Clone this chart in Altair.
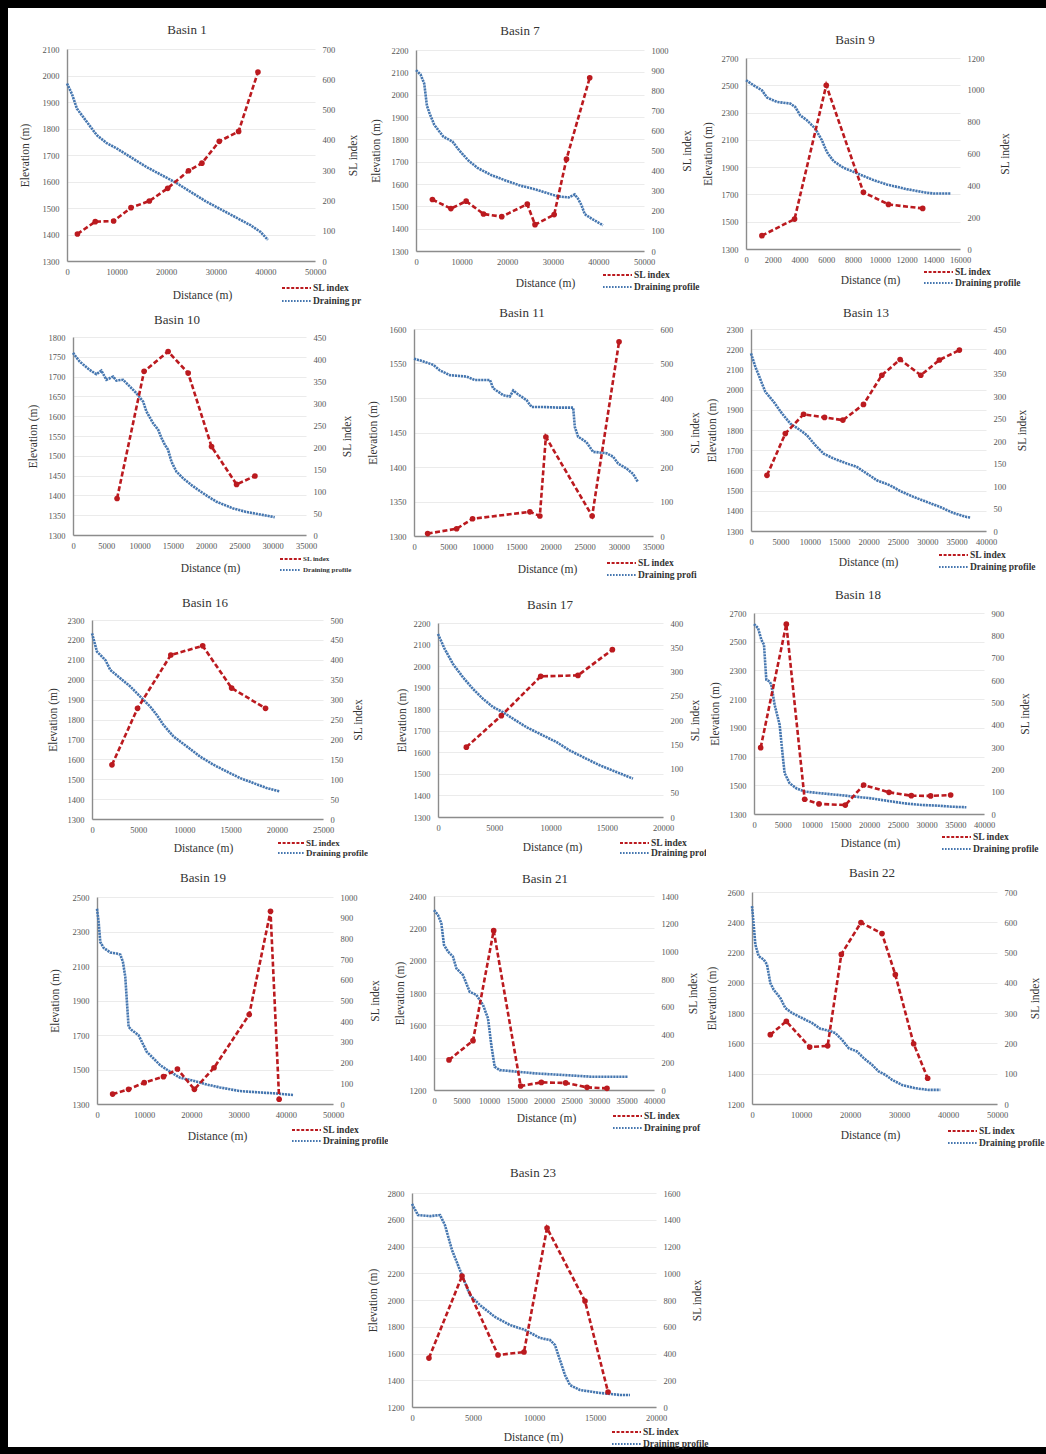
import altair as alt
import pandas as pd

RED = "#bb1a1f"
BLUE = "#4677b0"
SERIF = "Liberation Serif"
TXT = "#333333"
LBL = "#555555"
AXC = "#8c8c8c"

# ---------------- Basin 1 ----------------
b1_dist = [0, 1000, 2000, 4000, 6000, 8000, 10000, 13000, 16000, 19000, 22000, 25000, 28000, 31000, 34000, 37000, 39000, 40500]
b1_elev = [1970, 1930, 1875, 1825, 1775, 1745, 1725, 1690, 1655, 1625, 1595, 1560, 1525, 1495, 1465, 1435, 1410, 1380]
b1_sl_dist = [2100, 5700, 9400, 12900, 16600, 20300, 24500, 27200, 30700, 34600, 38500]
b1_sl = [89, 130, 132, 176, 198, 240, 298, 323, 395, 428, 624]

# ---------------- Basin 7 ----------------
b7_dist = [0, 1000, 1800, 2400, 3000, 4000, 6000, 8000, 9500, 11500, 13500, 16500, 19500, 23000, 26000, 29000, 31000, 33500, 34800, 35500, 36300, 37000, 38500, 41000]
b7_elev = [2110, 2090, 2050, 1950, 1915, 1865, 1812, 1790, 1750, 1705, 1672, 1640, 1617, 1592, 1577, 1558, 1545, 1540, 1553, 1535, 1505, 1465, 1445, 1415]
b7_sl_dist = [3600, 7650, 11000, 14800, 18800, 24400, 26100, 30300, 33000, 38100]
b7_sl = [256, 211, 248, 184, 171, 233, 131, 181, 457, 862]

# ---------------- Basin 9 ----------------
b9_dist = [0, 570, 1190, 1570, 2310, 3310, 3680, 4050, 4550, 5170, 5670, 6040, 6540, 7290, 8030, 9530, 10520, 12010, 13510, 14000, 15300]
b9_elev = [2537, 2500, 2463, 2410, 2378, 2366, 2341, 2280, 2244, 2183, 2098, 2012, 1944, 1895, 1866, 1805, 1773, 1739, 1712, 1707, 1707]
b9_sl_dist = [1190, 3630, 6000, 8780, 10650, 13210]
b9_sl = [84, 188, 1029, 356, 280, 255]

# ---------------- Basin 10 ----------------
b10_dist = [0, 1000, 2500, 3500, 4260, 5020, 6020, 6520, 7520, 8530, 9530, 10530, 11030, 12040, 12790, 13290, 13790, 14290, 14790, 15540, 16550, 17800, 19050, 20310, 21560, 24070, 26080, 28080, 30300]
b10_elev = [1760, 1738, 1717, 1706, 1715, 1692, 1700, 1690, 1692, 1675, 1658, 1637, 1612, 1582, 1566, 1545, 1528, 1515, 1485, 1460, 1443, 1426, 1411, 1397, 1384, 1367, 1358, 1352, 1345]
b10_sl_dist = [6620, 10680, 14290, 17300, 20810, 24570, 27330]
b10_sl = [83, 372, 417, 368, 201, 115, 134]

# ---------------- Basin 11 ----------------
b11_dist = [0, 1370, 2830, 3800, 5270, 7700, 8920, 11120, 11600, 13070, 14040, 14530, 15260, 16480, 17210, 18920, 21360, 23310, 23550, 24030, 25250, 26230, 28180, 29160, 29890, 31100, 32080, 32810]
b11_elev = [1557, 1553, 1548, 1540, 1533, 1531, 1526, 1526, 1514, 1504, 1502, 1511, 1505, 1497, 1487, 1487, 1486, 1486, 1458, 1444, 1436, 1422, 1420, 1415, 1405, 1398, 1390, 1378]
b11_sl_dist = [2000, 6240, 8580, 16970, 18430, 19310, 26090, 30030]
b11_sl = [7, 21, 50, 70, 58, 287, 58, 563]

# ---------------- Basin 13 ----------------
b13_dist = [0, 740, 1300, 2440, 3850, 5270, 6690, 8390, 9520, 10940, 12350, 14050, 16320, 18020, 19720, 21420, 23680, 25380, 27650, 29920, 32180, 34450, 36710, 37300]
b13_elev = [2179, 2113, 2072, 1989, 1940, 1882, 1832, 1799, 1774, 1725, 1683, 1659, 1634, 1617, 1584, 1551, 1526, 1498, 1469, 1444, 1419, 1389, 1369, 1367]
b13_sl_dist = [2720, 5840, 8950, 12520, 15640, 19150, 22270, 25380, 28900, 32070, 35470]
b13_sl = [124, 217, 260, 253, 247, 282, 347, 382, 347, 381, 403]

# ---------------- Basin 16 ----------------
b16_dist = [0, 540, 1440, 1980, 3060, 4140, 5220, 6290, 7010, 7730, 8810, 10250, 11690, 13130, 14570, 16010, 17450, 18880, 20320]
b16_elev = [2233, 2141, 2099, 2049, 2007, 1966, 1915, 1865, 1823, 1773, 1715, 1665, 1614, 1573, 1539, 1506, 1481, 1456, 1439]
b16_sl_dist = [2160, 4930, 8530, 11980, 15110, 18780]
b16_sl = [136, 278, 412, 435, 329, 278]

# ---------------- Basin 17 ----------------
b17_dist = [0, 590, 1330, 2220, 3110, 4000, 4890, 5780, 6670, 7850, 9040, 10520, 11700, 12890, 14370, 15850, 17330]
b17_elev = [2149, 2080, 2010, 1948, 1894, 1848, 1810, 1786, 1756, 1717, 1686, 1648, 1609, 1578, 1540, 1509, 1478]
b17_sl_dist = [2520, 5630, 9130, 12440, 15500]
b17_sl = [144, 209, 290, 292, 345]

# ---------------- Basin 18 ----------------
b18_dist = [0, 700, 1280, 1740, 2140, 2720, 3010, 3590, 4460, 5040, 5330, 6200, 7360, 8810, 11710, 14610, 17510, 20410, 23300, 26200, 29100, 32000, 34320, 36930]
b18_elev = [2623, 2595, 2514, 2479, 2235, 2223, 2200, 2060, 1921, 1688, 1584, 1514, 1479, 1456, 1444, 1433, 1421, 1409, 1391, 1374, 1363, 1358, 1351, 1347]
b18_sl_dist = [1160, 5620, 8810, 11300, 15880, 19070, 23480, 27360, 30720, 34200]
b18_sl = [297, 850, 66, 45, 40, 130, 97, 82, 81, 85]

# ---------------- Basin 19 ----------------
b19_dist = [0, 350, 700, 1410, 2820, 4230, 4930, 5490, 5990, 6340, 6690, 7390, 8800, 9510, 10560, 11970, 13380, 15490, 17610, 20420, 23240, 26060, 30280, 34510, 38030, 41550]
b19_elev = [2432, 2355, 2239, 2205, 2178, 2172, 2166, 2124, 2037, 1892, 1747, 1728, 1699, 1660, 1602, 1564, 1525, 1487, 1452, 1435, 1413, 1396, 1375, 1367, 1361, 1352]
b19_sl_dist = [3310, 6690, 10000, 14080, 17040, 20630, 24790, 32250, 36760, 38590]
b19_sl = [48, 71, 103, 132, 169, 71, 175, 432, 931, 23]

# ---------------- Basin 21 ----------------
b21_dist = [0, 730, 1330, 1820, 2550, 3450, 4060, 5270, 6480, 7700, 8910, 9820, 10420, 11030, 11940, 15270, 18300, 21330, 24970, 28610, 32240, 35270]
b21_elev = [2313, 2282, 2231, 2097, 2056, 2025, 1953, 1911, 1808, 1788, 1726, 1643, 1478, 1344, 1323, 1313, 1303, 1297, 1290, 1282, 1282, 1282]
b21_sl_dist = [2730, 7090, 10850, 15760, 19520, 23940, 27820, 31450]
b21_sl = [217, 356, 1150, 29, 55, 51, 19, 12]

# ---------------- Basin 22 ----------------
b22_dist = [0, 340, 680, 1360, 2380, 3060, 3740, 4420, 5780, 6800, 8160, 10200, 12240, 13950, 15650, 17010, 18370, 19730, 21430, 22790, 24490, 25850, 27210, 28570, 30610, 33330, 36050, 38440]
b22_elev = [2507, 2386, 2253, 2176, 2154, 2121, 1999, 1955, 1900, 1834, 1801, 1768, 1735, 1697, 1684, 1668, 1624, 1569, 1547, 1503, 1459, 1415, 1393, 1360, 1326, 1304, 1293, 1293]
b22_sl_dist = [3740, 7010, 11770, 15440, 18230, 22240, 26530, 29250, 32990, 35850]
b22_sl = [229, 273, 188, 192, 494, 599, 563, 427, 199, 85]

# ---------------- Basin 23 ----------------
b23_dist = [0, 490, 1480, 2300, 2700, 3280, 3930, 4750, 5570, 6800, 8030, 9260, 10490, 11310, 11720, 12130, 12540, 12950, 13770, 15410, 17050, 17870]
b23_elev = [2718, 2635, 2627, 2635, 2560, 2373, 2224, 2037, 1962, 1873, 1813, 1776, 1716, 1701, 1663, 1551, 1439, 1364, 1327, 1305, 1290, 1290]
b23_sl_dist = [1390, 4100, 7050, 9180, 11070, 14180, 16070]
b23_sl = [366, 979, 389, 411, 1338, 792, 112]

one = pd.DataFrame({"k": [0]})


def blank(w, h):
    """An empty white cell used to centre the last panel."""
    return alt.Chart(one).mark_point(opacity=0, size=1).encode(
        x=alt.value(w / 2), y=alt.value(h / 2)
    ).properties(width=w, height=h)


def label(text, x, y, size, weight="normal", align="center", limit=0):
    kw = dict(text=text, font=SERIF, fontSize=size, fontWeight=weight, color=TXT,
              align=align, baseline="middle")
    if limit:
        kw.update(limit=limit, ellipsis=" ")
    return alt.Chart(one).mark_text(**kw).encode(x=alt.value(x), y=alt.value(y))


def panel(p):
    cx0, cy0, cx1, cy1 = p["cell"]
    px0, py0, px1, py1 = p["box"]
    CW, CH = cx1 - cx0, cy1 - cy0
    mid_y = (py0 + py1) / 2 - cy0

    xaxis = alt.Axis(
        values=list(range(0, p["xmax"] + 1, p["xstep"])), format="d", offset=-(cy1 - py1),
        title="Distance (m)", titleX=p["xt"][0] - cx0, titleY=p["xt"][1] - py1,
        titleAlign="center", titleBaseline="middle", titleFont=SERIF, titleFontSize=11.5,
        titleFontWeight="normal", titleColor=TXT,
        labelFont=SERIF, labelFontSize=8.5, labelColor=LBL, labelPadding=6,
        labelFlush=False, labelOverlap=False, ticks=False, grid=False,
        domainColor=AXC, domainWidth=1.4,
    )
    xenc = alt.X("Distance:Q",
                 scale=alt.Scale(domain=[0, p["xmax"]], range=[px0 - cx0, px1 - cx0], nice=False, zero=False),
                 axis=xaxis)

    ylo, yhi, ystep = p["elev_axis"]
    yaxis = alt.Axis(
        orient="left", values=list(range(ylo, yhi + 1, ystep)), format="d", offset=-(px0 - cx0),
        title="Elevation (m)", titleX=p["yt"] - px0, titleY=mid_y, titleAngle=270,
        titleAlign="center", titleBaseline="middle", titleFont=SERIF, titleFontSize=11.5,
        titleFontWeight="normal", titleColor=TXT,
        labelFont=SERIF, labelFontSize=8.5, labelColor=LBL, labelPadding=8,
        labelOverlap=False, ticks=False, grid=True, gridColor="#ebebeb", gridWidth=1,
        domainColor=AXC, domainWidth=1.4,
    )
    smax, sstep = p["sl_axis"]
    saxis = alt.Axis(
        orient="right", values=list(range(0, smax + 1, sstep)), format="d", offset=-(cx1 - px1),
        title="SL index", titleX=p["st"] - px1, titleY=mid_y, titleAngle=270,
        titleAlign="center", titleBaseline="middle", titleFont=SERIF, titleFontSize=11.5,
        titleFontWeight="normal", titleColor=TXT,
        labelFont=SERIF, labelFontSize=8.5, labelColor=LBL, labelPadding=7,
        labelOverlap=False, ticks=False, grid=False, domain=False,
    )

    prof = pd.DataFrame({"Distance": p["dist"], "Elevation": p["elev"]})
    sl = pd.DataFrame({"Distance": p["sl_dist"], "SL": p["sl"]})

    profile = alt.Chart(prof).mark_line(color=BLUE, strokeWidth=2.6, strokeDash=[2.2, 0.8]).encode(
        x=xenc,
        y=alt.Y("Elevation:Q",
                scale=alt.Scale(domain=[ylo, yhi], range=[py1 - cy0, py0 - cy0], nice=False, zero=False),
                axis=yaxis),
    )
    slline = alt.Chart(sl).mark_line(
        color=RED, strokeWidth=2.6, strokeDash=[5, 2.5],
        point=alt.OverlayMarkDef(filled=True, size=32, color=RED, opacity=1),
    ).encode(
        x=xenc,
        y=alt.Y("SL:Q",
                scale=alt.Scale(domain=[0, smax], range=[py1 - cy0, py0 - cy0], nice=False, zero=True),
                axis=saxis),
    )
    layers = [profile, slline]

    # legend
    lx, ly1, ly2 = p["legend"]
    fs = p.get("lfs", 9.5)
    ll = p.get("llen", 29)
    tx = lx + ll + 2
    limit = p.get("cut", 0)
    layers.append(alt.Chart(one).mark_rule(color=RED, strokeWidth=2, strokeDash=[3, 1.6]).encode(
        x=alt.value(lx - cx0), x2=alt.value(lx + ll - cx0), y=alt.value(ly1 - cy0)))
    layers.append(alt.Chart(one).mark_rule(color=BLUE, strokeWidth=2, strokeDash=[1.6, 1.4]).encode(
        x=alt.value(lx - cx0), x2=alt.value(lx + ll - cx0), y=alt.value(ly2 - cy0)))
    layers.append(label("SL index", tx - cx0, ly1 - cy0, fs, "bold", "left"))
    layers.append(label("Draining profile", tx - cx0, ly2 - cy0, fs, "bold", "left", limit))

    # panel title
    layers.append(label(p["name"], p["title"][0] - cx0, p["title"][1] - cy0, 13))

    return alt.layer(*layers).resolve_scale(y="independent").properties(width=CW, height=CH)


panels = {
    "b1": dict(name="Basin 1", dist=b1_dist, elev=b1_elev, sl_dist=b1_sl_dist, sl=b1_sl,
               xmax=50000, xstep=10000, elev_axis=(1300, 2100, 100), sl_axis=(700, 100),
               cell=(8, 8, 368, 306), box=(67, 49, 315, 261), title=(187, 30), yt=25, st=353,
               xt=(202, 295), legend=(282, 288, 301), cut=55),
    "b7": dict(name="Basin 7", dist=b7_dist, elev=b7_elev, sl_dist=b7_sl_dist, sl=b7_sl,
               xmax=50000, xstep=10000, elev_axis=(1300, 2200, 100), sl_axis=(1000, 100),
               cell=(368, 8, 700, 306), box=(416, 50, 644, 251), title=(520, 31), yt=376, st=687,
               xt=(545, 283), legend=(603, 275, 287)),
    "b9": dict(name="Basin 9", dist=b9_dist, elev=b9_elev, sl_dist=b9_sl_dist, sl=b9_sl,
               xmax=16000, xstep=2000, elev_axis=(1300, 2700, 200), sl_axis=(1200, 200),
               cell=(700, 8, 1046, 306), box=(746, 58, 960, 249), title=(855, 40), yt=708, st=1005,
               xt=(870, 280), legend=(924, 272, 283)),
    "b10": dict(name="Basin 10", dist=b10_dist, elev=b10_elev, sl_dist=b10_sl_dist, sl=b10_sl,
                xmax=35000, xstep=5000, elev_axis=(1300, 1800, 50), sl_axis=(450, 50),
                cell=(8, 306, 362, 585), box=(73, 337, 306, 535), title=(177, 320), yt=33, st=347,
                xt=(210, 568), legend=(280, 559, 570), lfs=7, llen=21),
    "b11": dict(name="Basin 11", dist=b11_dist, elev=b11_elev, sl_dist=b11_sl_dist, sl=b11_sl,
                xmax=35000, xstep=5000, elev_axis=(1300, 1600, 50), sl_axis=(600, 100),
                cell=(362, 306, 703, 585), box=(414, 329, 653, 536), title=(522, 313), yt=373, st=695,
                xt=(547, 569), legend=(607, 563, 575), cut=63),
    "b13": dict(name="Basin 13", dist=b13_dist, elev=b13_elev, sl_dist=b13_sl_dist, sl=b13_sl,
                xmax=40000, xstep=5000, elev_axis=(1300, 2300, 100), sl_axis=(450, 50),
                cell=(703, 306, 1046, 585), box=(751, 329, 986, 531), title=(866, 313), yt=712, st=1022,
                xt=(868, 562), legend=(939, 555, 567)),
    "b16": dict(name="Basin 16", dist=b16_dist, elev=b16_elev, sl_dist=b16_sl_dist, sl=b16_sl,
                xmax=25000, xstep=5000, elev_axis=(1300, 2300, 100), sl_axis=(500, 50),
                cell=(8, 585, 368, 860), box=(92, 620, 323, 819), title=(205, 603), yt=53, st=358,
                xt=(203, 848), legend=(278, 843, 853), lfs=9, llen=26),
    "b17": dict(name="Basin 17", dist=b17_dist, elev=b17_elev, sl_dist=b17_sl_dist, sl=b17_sl,
                xmax=20000, xstep=5000, elev_axis=(1300, 2200, 100), sl_axis=(400, 50),
                cell=(368, 585, 706, 860), box=(438, 623, 663, 817), title=(550, 605), yt=402, st=695,
                xt=(552, 847), legend=(620, 843, 853), cut=61),
    "b18": dict(name="Basin 18", dist=b18_dist, elev=b18_elev, sl_dist=b18_sl_dist, sl=b18_sl,
                xmax=40000, xstep=5000, elev_axis=(1300, 2700, 200), sl_axis=(900, 100),
                cell=(706, 585, 1046, 860), box=(754, 613, 984, 814), title=(858, 595), yt=715, st=1025,
                xt=(870, 843), legend=(942, 837, 849)),
    "b19": dict(name="Basin 19", dist=b19_dist, elev=b19_elev, sl_dist=b19_sl_dist, sl=b19_sl,
                xmax=50000, xstep=10000, elev_axis=(1300, 2500, 200), sl_axis=(1000, 100),
                cell=(8, 860, 388, 1150), box=(97, 897, 333, 1104), title=(203, 878), yt=55, st=375,
                xt=(217, 1136), legend=(292, 1130, 1141)),
    "b21": dict(name="Basin 21", dist=b21_dist, elev=b21_elev, sl_dist=b21_sl_dist, sl=b21_sl,
                xmax=40000, xstep=5000, elev_axis=(1200, 2400, 200), sl_axis=(1400, 200),
                cell=(388, 860, 704, 1150), box=(434, 896, 654, 1090), title=(545, 879), yt=400, st=693,
                xt=(546, 1118), legend=(613, 1116, 1128), cut=60),
    "b22": dict(name="Basin 22", dist=b22_dist, elev=b22_elev, sl_dist=b22_sl_dist, sl=b22_sl,
                xmax=50000, xstep=10000, elev_axis=(1200, 2600, 200), sl_axis=(700, 100),
                cell=(704, 860, 1046, 1150), box=(752, 892, 997, 1104), title=(872, 873), yt=712, st=1035,
                xt=(870, 1135), legend=(948, 1131, 1143)),
    "b23": dict(name="Basin 23", dist=b23_dist, elev=b23_elev, sl_dist=b23_sl_dist, sl=b23_sl,
                xmax=20000, xstep=5000, elev_axis=(1200, 2800, 200), sl_axis=(1600, 200),
                cell=(355, 1150, 715, 1447), box=(412, 1193, 656, 1407), title=(533, 1173), yt=373, st=697,
                xt=(533, 1437), legend=(612, 1432, 1444)),
}


def row(*charts):
    return alt.hconcat(*charts, spacing=0, bounds="flush")


row1 = row(panel(panels["b1"]), panel(panels["b7"]), panel(panels["b9"]))
row2 = row(panel(panels["b10"]), panel(panels["b11"]), panel(panels["b13"]))
row3 = row(panel(panels["b16"]), panel(panels["b17"]), panel(panels["b18"]))
row4 = row(panel(panels["b19"]), panel(panels["b21"]), panel(panels["b22"]))
row5 = row(blank(347, 297), panel(panels["b23"]), blank(331, 297))

# White panels tile the page; the black page background shows as the outer frame.
chart = (
    alt.vconcat(row1, row2, row3, row4, row5, spacing=0)
    .properties(padding={"left": 8, "top": 8, "right": 0, "bottom": 7}, background="black")
    .configure_view(stroke=None, fill="white")
)

chart.save("out.html", embed_options={"renderer": "svg", "actions": False})
